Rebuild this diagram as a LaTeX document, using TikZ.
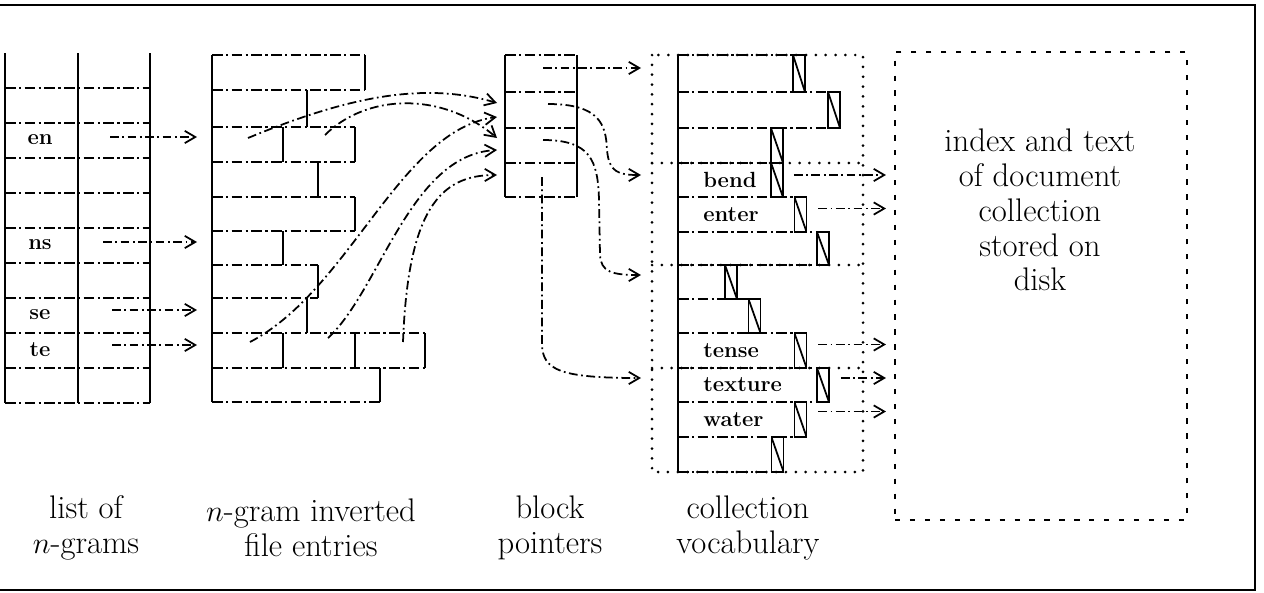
\documentclass[tikz,border=0pt]{standalone}
\usepackage{amsmath}
\usetikzlibrary{arrows.meta,calc}

\begin{document}
\begin{tikzpicture}[x=0.02cm, y=0.02cm,
  rowline/.style={line width=1pt, dash pattern=on 6pt off 2pt on 1.2pt off 2pt},
  ptr/.style={line width=1pt, dash pattern=on 5pt off 2pt on 1pt off 2pt, -{Straight Barb[length=6pt,width=7pt]}},
  dotbox/.style={line width=1.7pt, line cap=round, dash pattern=on 0pt off 5.6pt},
  diskbox/.style={draw, line width=1.2pt, dash pattern=on 3pt off 5.5pt, inner sep=0pt, minimum width=5.84cm, minimum height=9.36cm},
  hatch/.style={draw, line width=1pt, inner sep=0pt, minimum width=0.24cm, minimum height=0.69cm,
    path picture={\draw[line width=1pt] (path picture bounding box.north west) -- (path picture bounding box.south east);}},
  word/.style={font=\fontsize{12.5}{14}\selectfont\bfseries, inner sep=0pt},
  caption/.style={font=\fontsize{18.6}{19.8}\selectfont, align=center, inner sep=0pt}]
\useasboundingbox (0,0) rectangle (1264,-592);
\draw [line width=1.2pt] (0,-5) -- (1255,-5) -- (1255,-590) -- (0,-590);
% list of n-grams
\draw [line width=1.1pt] (5,-53) -- (5,-403) (78,-53) -- (78,-403) (150,-53) -- (150,-403);
\draw [rowline] (5,-88) -- (150,-88) (5,-123) -- (150,-123) (5,-158) -- (150,-158) (5,-193) -- (150,-193) (5,-228) -- (150,-228)
  (5,-263) -- (150,-263) (5,-298) -- (150,-298) (5,-333) -- (150,-333) (5,-368) -- (150,-368) (5,-403) -- (150,-403);
\node [word] (en) at (40,-140) {en};
\node [word] (ns) at (40,-245) {ns};
\node [word] (se) at (40,-315) {se};
\node [word] (te) at (40,-350) {te};
\coordinate (en0) at (110,-137);
\coordinate (en1) at (197,-137);
\coordinate (ns0) at (103,-242);
\coordinate (ns1) at (197,-242);
\coordinate (se0) at (112,-310);
\coordinate (se1) at (197,-310);
\coordinate (te0) at (112,-345);
\coordinate (te1) at (197,-345);
\draw [ptr] (en0) -- (en1);
\draw [ptr] (ns0) -- (ns1);
\draw [ptr] (se0) -- (se1);
\draw [ptr] (te0) -- (te1);
% n-gram inverted file entries
\draw [line width=1.1pt] (212,-55) -- (212,-402);
\draw [rowline] (212,-55) -- (365,-55) (212,-90) -- (365,-90) (212,-127) -- (355,-127) (212,-162) -- (355,-162)
  (212,-197) -- (355,-197) (212,-231) -- (355,-231) (212,-265) -- (318,-265) (212,-298) -- (318,-298)
  (212,-333) -- (425,-333) (212,-368) -- (425,-368) (212,-402) -- (380,-402);
\draw [line width=1.1pt] (365,-55) -- (365,-90) (307,-90) -- (307,-127) (283,-127) -- (283,-162) (355,-127) -- (355,-162)
  (318,-162) -- (318,-197) (355,-197) -- (355,-231) (283,-231) -- (283,-265) (318,-265) -- (318,-298)
  (307,-298) -- (307,-333) (283,-333) -- (283,-368) (355,-333) -- (355,-368) (425,-333) -- (425,-368) (380,-368) -- (380,-402);
\coordinate (inv3a) at (248,-138);
\coordinate (inv3b) at (325,-135);
\coordinate (inv9a) at (250,-342);
\coordinate (inv9b) at (328,-338);
\coordinate (inv9c) at (403,-342);
% block pointers
\draw [line width=1.1pt] (505,-55) -- (505,-197) (577,-55) -- (577,-197);
\draw [rowline] (505,-55) -- (577,-55) (505,-92) -- (577,-92) (505,-128) -- (577,-128) (505,-163) -- (577,-163) (505,-197) -- (577,-197);
\coordinate (in1) at (497,-103);
\coordinate (in2) at (497,-138);
\coordinate (in3) at (497,-117);
\coordinate (in4) at (497,-150);
\coordinate (in5) at (497,-175);
\draw [ptr] (inv3a) .. controls (340,-100) and (420,-80) .. (in1);
\draw [ptr] (inv3b) .. controls (365,-95) and (440,-90) .. (in2);
\draw [ptr] (inv9a) .. controls (350,-290) and (400,-130) .. (in3);
\draw [ptr] (inv9b) .. controls (380,-290) and (410,-155) .. (in4);
\draw [ptr] (inv9c) .. controls (408,-210) and (440,-175) .. (in5);
\coordinate (blk1) at (543,-68);
\coordinate (blk2) at (548,-104);
\coordinate (blk3) at (543,-140);
\coordinate (blk4) at (542,-177);
\coordinate (out1) at (641,-68);
\coordinate (out2) at (641,-175);
\coordinate (out3) at (641,-275);
\coordinate (out4) at (641,-378);
\draw [ptr] (blk1) -- (out1);
\draw [ptr] (blk2) .. controls (600,-104) and (606,-125) .. (607,-150) .. controls (609,-172) and (618,-175) .. (out2);
\draw [ptr] (blk3) .. controls (590,-140) and (598,-160) .. (599,-200) -- (600,-255) .. controls (601,-272) and (612,-275) .. (out3);
\draw [ptr] (blk4) -- (542,-345) .. controls (543,-370) and (560,-378) .. (out4);
% collection vocabulary
\draw [dotbox] (652,-55) rectangle (863,-472);
\draw [dotbox] (652,-163) -- (863,-163) (652,-265) -- (863,-265) (652,-368) -- (863,-368);
\draw [line width=1.1pt] (678,-55) -- (678,-472);
\draw [rowline] (678,-55) -- (805,-55) (678,-92) -- (840,-92) (678,-128) -- (840,-128) (678,-163) -- (783,-163)
  (678,-197) -- (806,-197) (678,-232) -- (829,-232) (678,-265) -- (829,-265) (678,-299) -- (761,-299)
  (678,-333) -- (806,-333) (678,-368) -- (829,-368) (678,-402) -- (829,-402) (678,-437) -- (806,-437) (678,-472) -- (783,-472);
\node [hatch, minimum height=0.74cm] (v1) at (799,-73.5) {};
\node [hatch, minimum height=0.72cm] (v2) at (834,-110) {};
\node [hatch] (v3) at (777,-145.5) {};
\node [hatch] (v4) at (777,-180) {};
\node [hatch] (v5) at (800.5,-214.5) {};
\node [hatch, minimum height=0.66cm] (v6) at (823,-248.5) {};
\node [hatch, minimum height=0.68cm] (v7) at (731,-282) {};
\node [hatch, minimum height=0.68cm] (v8) at (754.5,-316) {};
\node [hatch] (v9) at (800.5,-350.5) {};
\node [hatch, minimum height=0.68cm] (v10) at (823,-385) {};
\node [hatch] (v11) at (800.5,-419.5) {};
\node [hatch] (v12) at (777.5,-454.5) {};
\node [word, anchor=west] (bend) at (703,-180) {bend};
\node [word, anchor=west] (enter) at (703,-214.5) {enter};
\node [word, anchor=west] (tense) at (703,-350.5) {tense};
\node [word, anchor=west] (texture) at (703,-385) {texture};
\node [word, anchor=west] (water) at (703,-419.5) {water};
% disk
\node [diskbox] (disk) at (1041,-286) {};
\node [caption] (disktext) at (1040,-210) {index and text\\of document\\collection\\stored on\\disk};
\draw [ptr] ($(v4.east)+(10,5)$) -- ($(v4.east -| disk.west)+(-8,5)$);
\draw [ptr] ($(v5.east)+(11,6)$) -- ($(v5.east -| disk.west)+(-8,6)$);
\draw [ptr] ($(v9.east)+(11,6)$) -- ($(v9.east -| disk.west)+(-8,6)$);
\draw [ptr] ($(v10.east)+(11,7)$) -- ($(v10.east -| disk.west)+(-8,7)$);
\draw [ptr] ($(v11.east)+(11,8)$) -- ($(v11.east -| disk.west)+(-8,8)$);
% captions
\node [caption] (cap1) at (86,-528) {list of\\$n$-grams};
\node [caption] (cap2) at (311,-528) {$n$-gram inverted\\file entries};
\node [caption] (cap3) at (550,-528) {block\\pointers};
\node [caption] (cap4) at (748,-528) {collection\\vocabulary};
\end{tikzpicture}
\end{document}
